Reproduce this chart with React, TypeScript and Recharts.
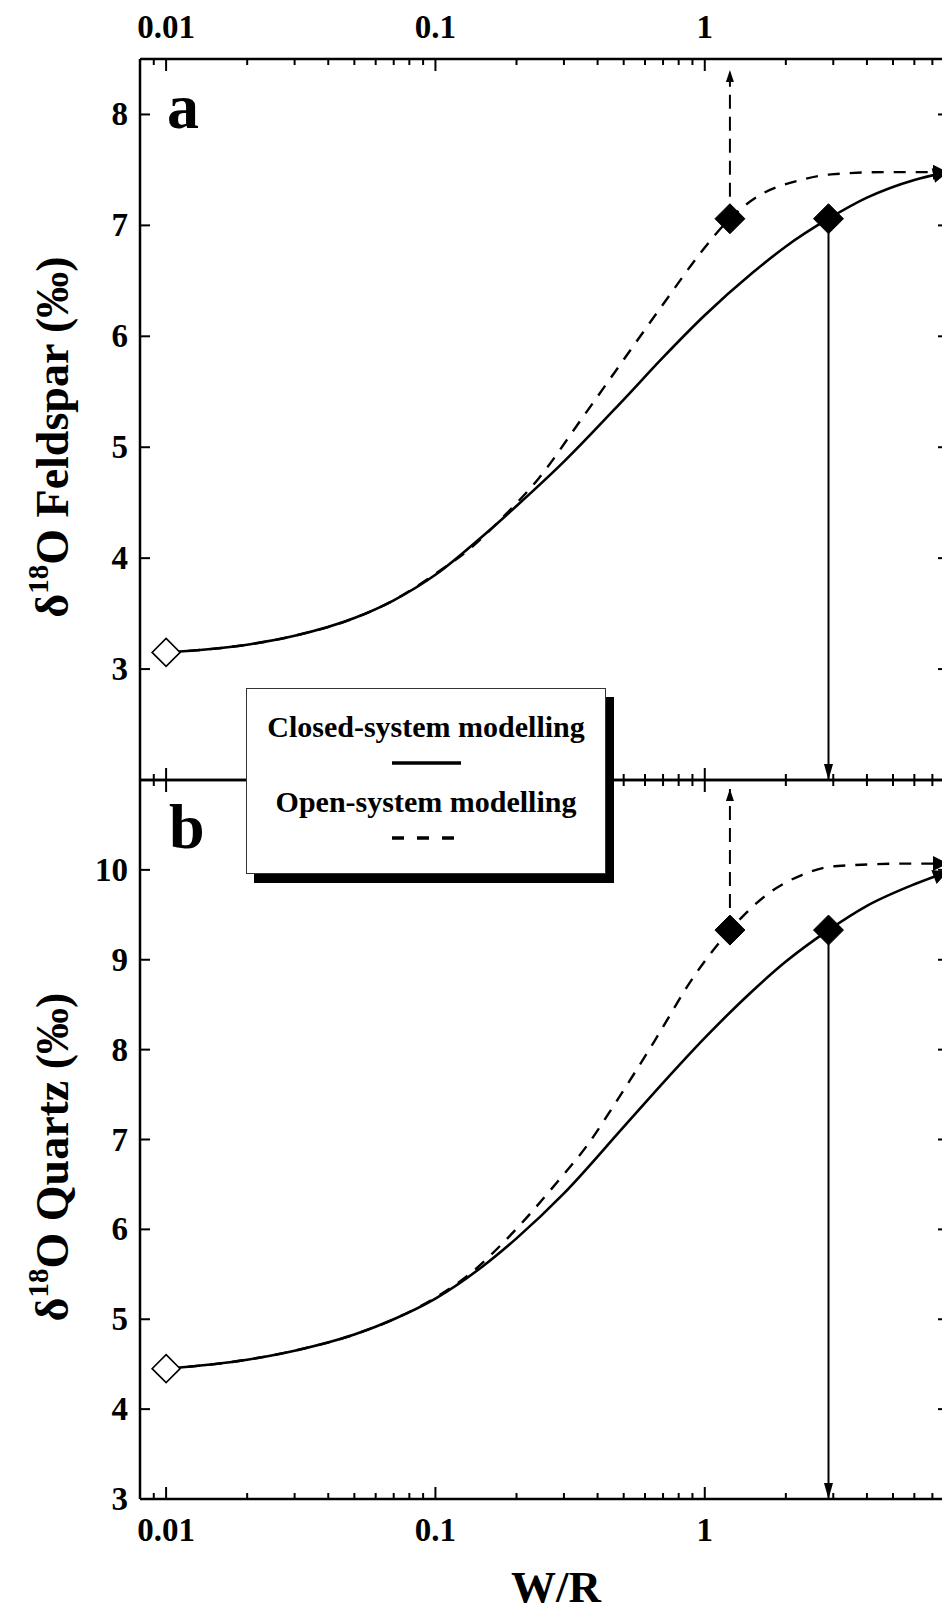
import React from 'react';
import { ComposedChart, Line, Scatter, XAxis, YAxis } from 'recharts';

const FONT = '"Liberation Serif", "Times New Roman", serif';

// ---------- axes ----------
const X_DOMAIN = [0.008, 8];
const X_MAJOR = [0.01, 0.1, 1];
const X_MAJOR_LABELS = ['0.01', '0.1', '1'];
const X_MINOR = [
  0.009, 0.02, 0.03, 0.04, 0.05, 0.06, 0.07, 0.08, 0.09,
  0.2, 0.3, 0.4, 0.5, 0.6, 0.7, 0.8, 0.9,
  2, 3, 4, 5, 6, 7,
];
const X_TICKS = [...X_MAJOR, ...X_MINOR].sort((a, b) => a - b);

const A_Y_DOMAIN = [2, 8.5];
const A_Y_TICKS = [3, 4, 5, 6, 7, 8];
const B_Y_DOMAIN = [3, 11];
const B_Y_TICKS = [3, 4, 5, 6, 7, 8, 9, 10];

// ---------- panel a : feldspar ----------
const A_CLOSED_X = [0.01, 0.02, 0.03, 0.05, 0.07, 0.1, 0.15, 0.2, 0.3, 0.5, 0.7, 1, 1.5, 2, 2.88, 4, 6, 8];
const A_CLOSED_Y = [3.15, 3.22, 3.3, 3.46, 3.62, 3.85, 4.2, 4.47, 4.87, 5.43, 5.81, 6.19, 6.57, 6.81, 7.06, 7.25, 7.41, 7.48];
const A_OPEN_X = [0.01, 0.02, 0.03, 0.05, 0.07, 0.1, 0.135, 0.185, 0.24, 0.35, 0.5, 0.73, 0.97, 1.24, 1.57, 2.28, 2.94, 4.65, 8];
const A_OPEN_Y = [3.15, 3.22, 3.3, 3.46, 3.62, 3.86, 4.09, 4.41, 4.71, 5.26, 5.79, 6.35, 6.76, 7.06, 7.26, 7.41, 7.46, 7.48, 7.48];
const A_START_X = [0.01];
const A_START_Y = [3.15];
const A_RESULT_X = [1.24, 2.88];
const A_RESULT_Y = [7.06, 7.06];
const A_OPEN_ARROW_Y = [7.06, 8.4];
const A_CLOSED_ARROW_Y = [7.06, 2];

// ---------- panel b : quartz ----------
const B_CLOSED_X = [0.01, 0.02, 0.03, 0.05, 0.07, 0.1, 0.15, 0.2, 0.3, 0.5, 0.7, 1, 1.5, 2, 2.88, 4, 6, 8];
const B_CLOSED_Y = [4.45, 4.55, 4.65, 4.83, 5.0, 5.23, 5.59, 5.9, 6.4, 7.14, 7.63, 8.13, 8.65, 8.98, 9.33, 9.6, 9.84, 9.98];
const B_OPEN_X = [0.01, 0.02, 0.03, 0.05, 0.07, 0.1, 0.135, 0.185, 0.284, 0.367, 0.46, 0.649, 0.914, 1.24, 1.71, 2.28, 3.03, 5.83, 8];
const B_OPEN_Y = [4.45, 4.55, 4.65, 4.83, 5.0, 5.24, 5.51, 5.9, 6.53, 6.94, 7.38, 8.09, 8.82, 9.33, 9.73, 9.94, 10.04, 10.07, 10.07];
const B_START_X = [0.01];
const B_START_Y = [4.45];
const B_RESULT_X = [1.24, 2.88];
const B_RESULT_Y = [9.33, 9.33];
const B_OPEN_ARROW_Y = [9.33, 10.9];
const B_CLOSED_ARROW_Y = [9.33, 3];

const LEGEND_LABELS = ['Closed-system modelling', 'Open-system modelling'];
const Y_TITLES = ['Feldspar', 'Quartz'];
const X_TITLE = 'W/R';
const PANEL_LETTERS = ['a', 'b'];

const zip = (xs: number[], ys: number[]) => xs.map((x, i) => ({ x, y: ys[i] }));

// ---------- renderers ----------
const makeXTick = (dir: number, labelDy: number | null) => (props: any) => {
  const { x, y, payload } = props;
  const v = Number(payload?.value);
  const mi = X_MAJOR.indexOf(v);
  const major = mi >= 0;
  const len = major ? 12 : 6;
  return (
    <g>
      <line x1={x} x2={x} y1={y} y2={y + dir * len} stroke="#000" strokeWidth={2} />
      {major && labelDy !== null ? (
        <text x={x} y={y + labelDy} textAnchor="middle" fontFamily={FONT} fontWeight="bold" fontSize={33} fill="#000">
          {X_MAJOR_LABELS[mi]}
        </text>
      ) : null}
    </g>
  );
};

const makeYTick = (dir: number, labels: boolean) => (props: any) => {
  const { x, y, payload } = props;
  return (
    <g>
      <line x1={x} x2={x + dir * 10} y1={y} y2={y} stroke="#000" strokeWidth={2} />
      {labels ? (
        <text x={x - 12} y={y + 11} textAnchor="end" fontFamily={FONT} fontWeight="bold" fontSize={33} fill="#000">
          {String(payload?.value)}
        </text>
      ) : null}
    </g>
  );
};

const arrowDot = (len: number, half: number, fallbackAngle: number) => (props: any) => {
  const { cx, cy, index, points } = props;
  const n = points ? points.length : 2;
  if (index !== n - 1 || cx == null || cy == null) return <g key={`d${index}`} />;
  let ang = fallbackAngle;
  if (points && points.length > 1) {
    const p = points[n - 2];
    if (p && p.x != null && p.y != null && (p.x !== cx || p.y !== cy)) ang = Math.atan2(cy - p.y, cx - p.x);
  }
  const ux = Math.cos(ang);
  const uy = Math.sin(ang);
  const bx = cx - ux * len;
  const by = cy - uy * len;
  const pts = `${cx},${cy} ${bx - uy * half},${by + ux * half} ${bx + uy * half},${by - ux * half}`;
  return <polygon key={`d${index}`} points={pts} fill="#000" stroke="none" />;
};

const diamond = (half: number, filled: boolean) => (props: any) => {
  const { cx, cy } = props;
  return (
    <path
      d={`M${cx},${cy - half}L${cx + half},${cy}L${cx},${cy + half}L${cx - half},${cy}Z`}
      fill={filled ? '#000' : '#fff'}
      stroke="#000"
      strokeWidth={filled ? 1 : 1.6}
    />
  );
};

type Pt = { x: number; y: number };
type PanelProps = {
  height: number;
  margin: { top: number; right: number; bottom: number; left: number };
  topHeight: number;
  bottomHeight: number;
  topLabels: boolean;
  bottomLabels: boolean;
  yDomain: number[];
  yTicks: number[];
  closed: Pt[];
  open: Pt[];
  start: Pt[];
  results: Pt[];
  closedArrow: Pt[];
  openArrow: Pt[];
};

function Panel(p: PanelProps) {
  return (
    <ComposedChart width={1000} height={p.height} margin={p.margin}>
      <XAxis
        xAxisId="t"
        orientation="top"
        dataKey="x"
        type="number"
        scale="log"
        domain={X_DOMAIN}
        allowDataOverflow
        ticks={X_TICKS}
        interval={0}
        height={p.topHeight}
        tickSize={0}
        tickMargin={0}
        tickLine={false}
        axisLine={{ stroke: '#000', strokeWidth: 2.5 }}
        tick={makeXTick(1, p.topLabels ? -21 : null)}
      />
      <XAxis
        xAxisId="b"
        orientation="bottom"
        dataKey="x"
        type="number"
        scale="log"
        domain={X_DOMAIN}
        allowDataOverflow
        ticks={X_TICKS}
        interval={0}
        height={p.bottomHeight}
        tickSize={0}
        tickMargin={0}
        tickLine={false}
        axisLine={{ stroke: '#000', strokeWidth: 2.5 }}
        tick={makeXTick(-1, p.bottomLabels ? 42 : null)}
      />
      <YAxis
        yAxisId="l"
        orientation="left"
        dataKey="y"
        type="number"
        domain={p.yDomain}
        allowDataOverflow
        ticks={p.yTicks}
        interval={0}
        width={140}
        tickSize={0}
        tickMargin={0}
        tickLine={false}
        axisLine={{ stroke: '#000', strokeWidth: 2.5 }}
        tick={makeYTick(1, true)}
      />
      <YAxis
        yAxisId="r"
        orientation="right"
        dataKey="y"
        type="number"
        domain={p.yDomain}
        allowDataOverflow
        ticks={p.yTicks}
        interval={0}
        width={52}
        tickSize={0}
        tickMargin={0}
        tickLine={false}
        axisLine={{ stroke: '#000', strokeWidth: 2.5 }}
        tick={makeYTick(-1, false)}
      />
      <Line
        xAxisId="t"
        yAxisId="l"
        data={p.open}
        dataKey="y"
        type="monotone"
        stroke="#000"
        strokeWidth={2.4}
        strokeDasharray="12 10"
        dot={arrowDot(15, 7.5, 0)}
        activeDot={false}
        isAnimationActive={false}
      />
      <Line
        xAxisId="t"
        yAxisId="l"
        data={p.closed}
        dataKey="y"
        type="monotone"
        stroke="#000"
        strokeWidth={2.6}
        dot={arrowDot(15, 7.5, 0)}
        activeDot={false}
        isAnimationActive={false}
      />
      <Line
        xAxisId="t"
        yAxisId="l"
        data={p.openArrow}
        dataKey="y"
        type="linear"
        stroke="#000"
        strokeWidth={2}
        strokeDasharray="14 8"
        dot={arrowDot(12, 4, -Math.PI / 2)}
        activeDot={false}
        isAnimationActive={false}
      />
      <Line
        xAxisId="t"
        yAxisId="l"
        data={p.closedArrow}
        dataKey="y"
        type="linear"
        stroke="#000"
        strokeWidth={2}
        dot={arrowDot(16, 4.5, Math.PI / 2)}
        activeDot={false}
        isAnimationActive={false}
      />
      <Scatter xAxisId="t" yAxisId="l" data={p.start} dataKey="y" shape={diamond(14, false)} isAnimationActive={false} />
      <Scatter xAxisId="t" yAxisId="l" data={p.results} dataKey="y" shape={diamond(15, true)} isAnimationActive={false} />
    </ComposedChart>
  );
}

function YTitle({ x, y, mineral }: { x: number; y: number; mineral: string }) {
  return (
    <text
      transform={`translate(${x},${y}) rotate(-90)`}
      textAnchor="middle"
      fontFamily={FONT}
      fontWeight="bold"
      fontSize={46}
      fill="#000"
    >
      <tspan>δ</tspan>
      <tspan fontSize={29} dy={-20}>18</tspan>
      <tspan dy={20}>{`O ${mineral} (‰)`}</tspan>
    </text>
  );
}

export default function App() {
  return (
    <div
      style={{
        position: 'absolute',
        left: 0,
        top: 0,
        width: 942,
        height: 1612,
        overflow: 'hidden',
        background: '#fff',
      }}
    >
      <div style={{ position: 'absolute', left: 0, top: 0 }}>
        <Panel
          height={800}
          margin={{ top: 0, right: 0, bottom: 19, left: 0 }}
          topHeight={59}
          bottomHeight={1}
          topLabels
          bottomLabels={false}
          yDomain={A_Y_DOMAIN}
          yTicks={A_Y_TICKS}
          closed={zip(A_CLOSED_X, A_CLOSED_Y)}
          open={zip(A_OPEN_X, A_OPEN_Y)}
          start={zip(A_START_X, A_START_Y)}
          results={zip(A_RESULT_X, A_RESULT_Y)}
          closedArrow={zip([A_RESULT_X[1], A_RESULT_X[1]], A_CLOSED_ARROW_Y)}
          openArrow={zip([A_RESULT_X[0], A_RESULT_X[0]], A_OPEN_ARROW_Y)}
        />
      </div>
      <div style={{ position: 'absolute', left: 0, top: 760 }}>
        <Panel
          height={852}
          margin={{ top: 19, right: 0, bottom: 0, left: 0 }}
          topHeight={1}
          bottomHeight={113}
          topLabels={false}
          bottomLabels
          yDomain={B_Y_DOMAIN}
          yTicks={B_Y_TICKS}
          closed={zip(B_CLOSED_X, B_CLOSED_Y)}
          open={zip(B_OPEN_X, B_OPEN_Y)}
          start={zip(B_START_X, B_START_Y)}
          results={zip(B_RESULT_X, B_RESULT_Y)}
          closedArrow={zip([B_RESULT_X[1], B_RESULT_X[1]], B_CLOSED_ARROW_Y)}
          openArrow={zip([B_RESULT_X[0], B_RESULT_X[0]], B_OPEN_ARROW_Y)}
        />
      </div>
      <svg
        width={942}
        height={1612}
        style={{ position: 'absolute', left: 0, top: 0, pointerEvents: 'none' }}
      >
        <text x={167} y={128} fontFamily={FONT} fontWeight="bold" fontSize={64} fill="#000">
          {PANEL_LETTERS[0]}
        </text>
        <text x={169} y={848} fontFamily={FONT} fontWeight="bold" fontSize={64} fill="#000">
          {PANEL_LETTERS[1]}
        </text>
        <YTitle x={68} y={437} mineral={Y_TITLES[0]} />
        <YTitle x={68} y={1157} mineral={Y_TITLES[1]} />
        <text x={556} y={1602} textAnchor="middle" fontFamily={FONT} fontWeight="bold" fontSize={45} fill="#000">
          {X_TITLE}
        </text>
      </svg>
      <div
        style={{
          position: 'absolute',
          left: 246,
          top: 688,
          width: 360,
          height: 186,
          boxSizing: 'border-box',
          border: '1px solid #333',
          background: '#fff',
          boxShadow: '8px 9px 0 0 #000',
        }}
      >
        <svg width={358} height={184} style={{ display: 'block' }}>
          <text x={179} y={48} textAnchor="middle" fontFamily={FONT} fontWeight="bold" fontSize={30} fill="#000">
            {LEGEND_LABELS[0]}
          </text>
          <line x1={145} x2={214} y1={74} y2={74} stroke="#000" strokeWidth={3.5} />
          <text x={179} y={123} textAnchor="middle" fontFamily={FONT} fontWeight="bold" fontSize={30} fill="#000">
            {LEGEND_LABELS[1]}
          </text>
          <line x1={145} x2={207} y1={149} y2={149} stroke="#000" strokeWidth={3.5} strokeDasharray="12 13" />
        </svg>
      </div>
    </div>
  );
}
